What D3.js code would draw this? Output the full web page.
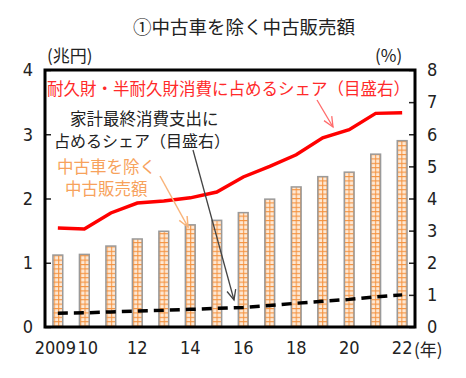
<!DOCTYPE html>
<html>
<head>
<meta charset="utf-8">
<script src="https://d3js.org/d3.v7.min.js"></script>
<style>
  body { margin: 0; background: #fff; }
  svg { display: block; }
  .num { font-family: "Liberation Sans Narrow", "DejaVu Sans Condensed", sans-serif; font-size: 18px; fill: #222; }
  .jp { font-family: "Noto Sans CJK JP", sans-serif; }
</style>
</head>
<body>
<svg id="chart"></svg>
<script>
// data
const years = [2009, 2010, 2011, 2012, 2013, 2014, 2015, 2016, 2017, 2018, 2019, 2020, 2021, 2022];
const usedSales = [1.12, 1.13, 1.26, 1.37, 1.49, 1.59, 1.66, 1.78, 1.99, 2.18, 2.34, 2.41, 2.69, 2.90];   // 兆円, left axis
const durableShare = [3.08, 3.05, 3.55, 3.86, 3.92, 4.02, 4.20, 4.67, 5.00, 5.36, 5.89, 6.14, 6.65, 6.67]; // %, right axis
const householdShare = [0.43, 0.44, 0.47, 0.50, 0.52, 0.55, 0.58, 0.61, 0.67, 0.74, 0.80, 0.86, 0.94, 1.00]; // %, right axis
const leftTicks = [0, 1, 2, 3, 4];
const rightTicks = [0, 1, 2, 3, 4, 5, 6, 7, 8];
const xLabels = { 2009: "2009", 2010: "10", 2012: "12", 2014: "14", 2016: "16", 2018: "18", 2020: "20", 2022: "22" };

const W = 466, H = 378;
const mL = 45, mR = 415, mT = 70, mB = 327;

const svg = d3.select("#chart").attr("width", W).attr("height", H);

// grid pattern for bars
const defs = svg.append("defs");
const pat = defs.append("pattern").attr("id", "grid")
  .attr("patternUnits", "userSpaceOnUse").attr("width", 4.4).attr("height", 4.4);
pat.append("rect").attr("width", 4.4).attr("height", 4.4).attr("fill", "#fde9d6");
pat.append("path").attr("d", "M0,0.5H4.4M1.5,0V4.4").attr("stroke", "#f5923e").attr("stroke-width", 1);

const x = d3.scaleBand().domain(years).range([mL, mR]).paddingInner(0.63).paddingOuter(0.3);
const yL = d3.scaleLinear().domain([0, 4]).range([mB, mT]);
const yR = d3.scaleLinear().domain([0, 8]).range([mB, mT]);
const cx = d => x(d) + x.bandwidth() / 2;

// title
svg.append("text").attr("class", "jp").attr("x", 244).attr("y", 34)
  .attr("text-anchor", "middle").attr("font-size", 18.5).attr("fill", "#222")
  .text("①中古車を除く中古販売額");

// bars
svg.append("g").selectAll("rect").data(years).join("rect")
  .attr("x", d => x(d))
  .attr("y", (d, i) => yL(usedSales[i]))
  .attr("width", x.bandwidth())
  .attr("height", (d, i) => yL(0) - yL(usedSales[i]))
  .attr("fill", "url(#grid)")
  .attr("stroke", "#9a9a9a").attr("stroke-width", 1.5);

// lines
const lineR = d3.line().x((d, i) => cx(years[i])).y(d => yR(d));
svg.append("path").datum(durableShare).attr("d", lineR)
  .attr("fill", "none").attr("stroke", "#ff0000").attr("stroke-width", 3.5);
svg.append("path").datum(householdShare).attr("d", lineR)
  .attr("fill", "none").attr("stroke", "#000").attr("stroke-width", 3.5)
  .attr("stroke-dasharray", "10,6");

// axes
const axL = svg.append("g").attr("transform", `translate(${mL},0)`)
  .call(d3.axisLeft(yL).tickValues(leftTicks).tickSize(-6).tickPadding(12).tickFormat(d3.format("d")));
const axR = svg.append("g").attr("transform", `translate(${mR},0)`)
  .call(d3.axisRight(yR).tickValues(rightTicks).tickSize(-6).tickPadding(12).tickFormat(d3.format("d")));
const axB = svg.append("g").attr("transform", `translate(0,${mB})`)
  .call(d3.axisBottom(x).tickSize(0).tickPadding(14).tickFormat(d => xLabels[d] || ""));
[axL, axR, axB].forEach(a => {
  a.select(".domain").remove();
  a.selectAll("line").attr("stroke", "#222").attr("stroke-width", 1.5);
  a.selectAll("text").attr("class", "num");
});
axB.selectAll("text").attr("dy", "0.71em")
  .attr("dx", d => d === 2009 ? -2.5 : d === 2010 ? 3.5 : 0);

// frame
svg.append("rect").attr("x", mL).attr("y", mT)
  .attr("width", mR - mL).attr("height", mB - mT)
  .attr("fill", "none").attr("stroke", "#000").attr("stroke-width", 3);

// unit labels
svg.append("text").attr("class", "jp").attr("x", 47).attr("y", 62)
  .attr("font-size", 17).attr("fill", "#222").text("(兆円)");
svg.append("text").attr("class", "jp").attr("x", 375).attr("y", 62)
  .attr("font-size", 17).attr("fill", "#222").text("(%)");
svg.append("text").attr("class", "jp").attr("x", 414).attr("y", 356)
  .attr("font-size", 17).attr("fill", "#222").text("(年)");

// annotations
const ann = (txt, xx, yy, col, size) => svg.append("text").attr("class", "jp")
  .attr("x", xx).attr("y", yy).attr("font-size", size).attr("fill", col).text(txt);
ann("耐久財・半耐久財消費に占めるシェア（目盛右）", 47, 95, "#ff2a2a", 16.5);
ann("家計最終消費支出に", 70, 125, "#222", 16.5);
ann("占めるシェア（目盛右）", 54, 147, "#222", 16);
ann("中古車を除く", 57, 173, "#f7a25c", 16.5);
ann("中古販売額", 65, 195, "#f7a25c", 16.5);

function arrow(x1, y1, x2, y2, col, w) {
  const a = Math.atan2(y2 - y1, x2 - x1), L = 11, s = 0.42;
  svg.append("line").attr("x1", x1).attr("y1", y1).attr("x2", x2).attr("y2", y2)
    .attr("stroke", col).attr("stroke-width", w);
  const p1 = [x2 - L * Math.cos(a - s), y2 - L * Math.sin(a - s)];
  const p2 = [x2 - L * Math.cos(a + s), y2 - L * Math.sin(a + s)];
  svg.append("path").attr("d", `M${p1}L${x2},${y2}L${p2}`)
    .attr("fill", "none").attr("stroke", col).attr("stroke-width", w);
}
arrow(317, 100, 333, 127, "#ff6b6b", 1.3);
arrow(193, 150, 234, 300, "#444", 1.3);
arrow(160, 176, 188, 227, "#f9b47a", 1.5);
</script>
</body>
</html>
